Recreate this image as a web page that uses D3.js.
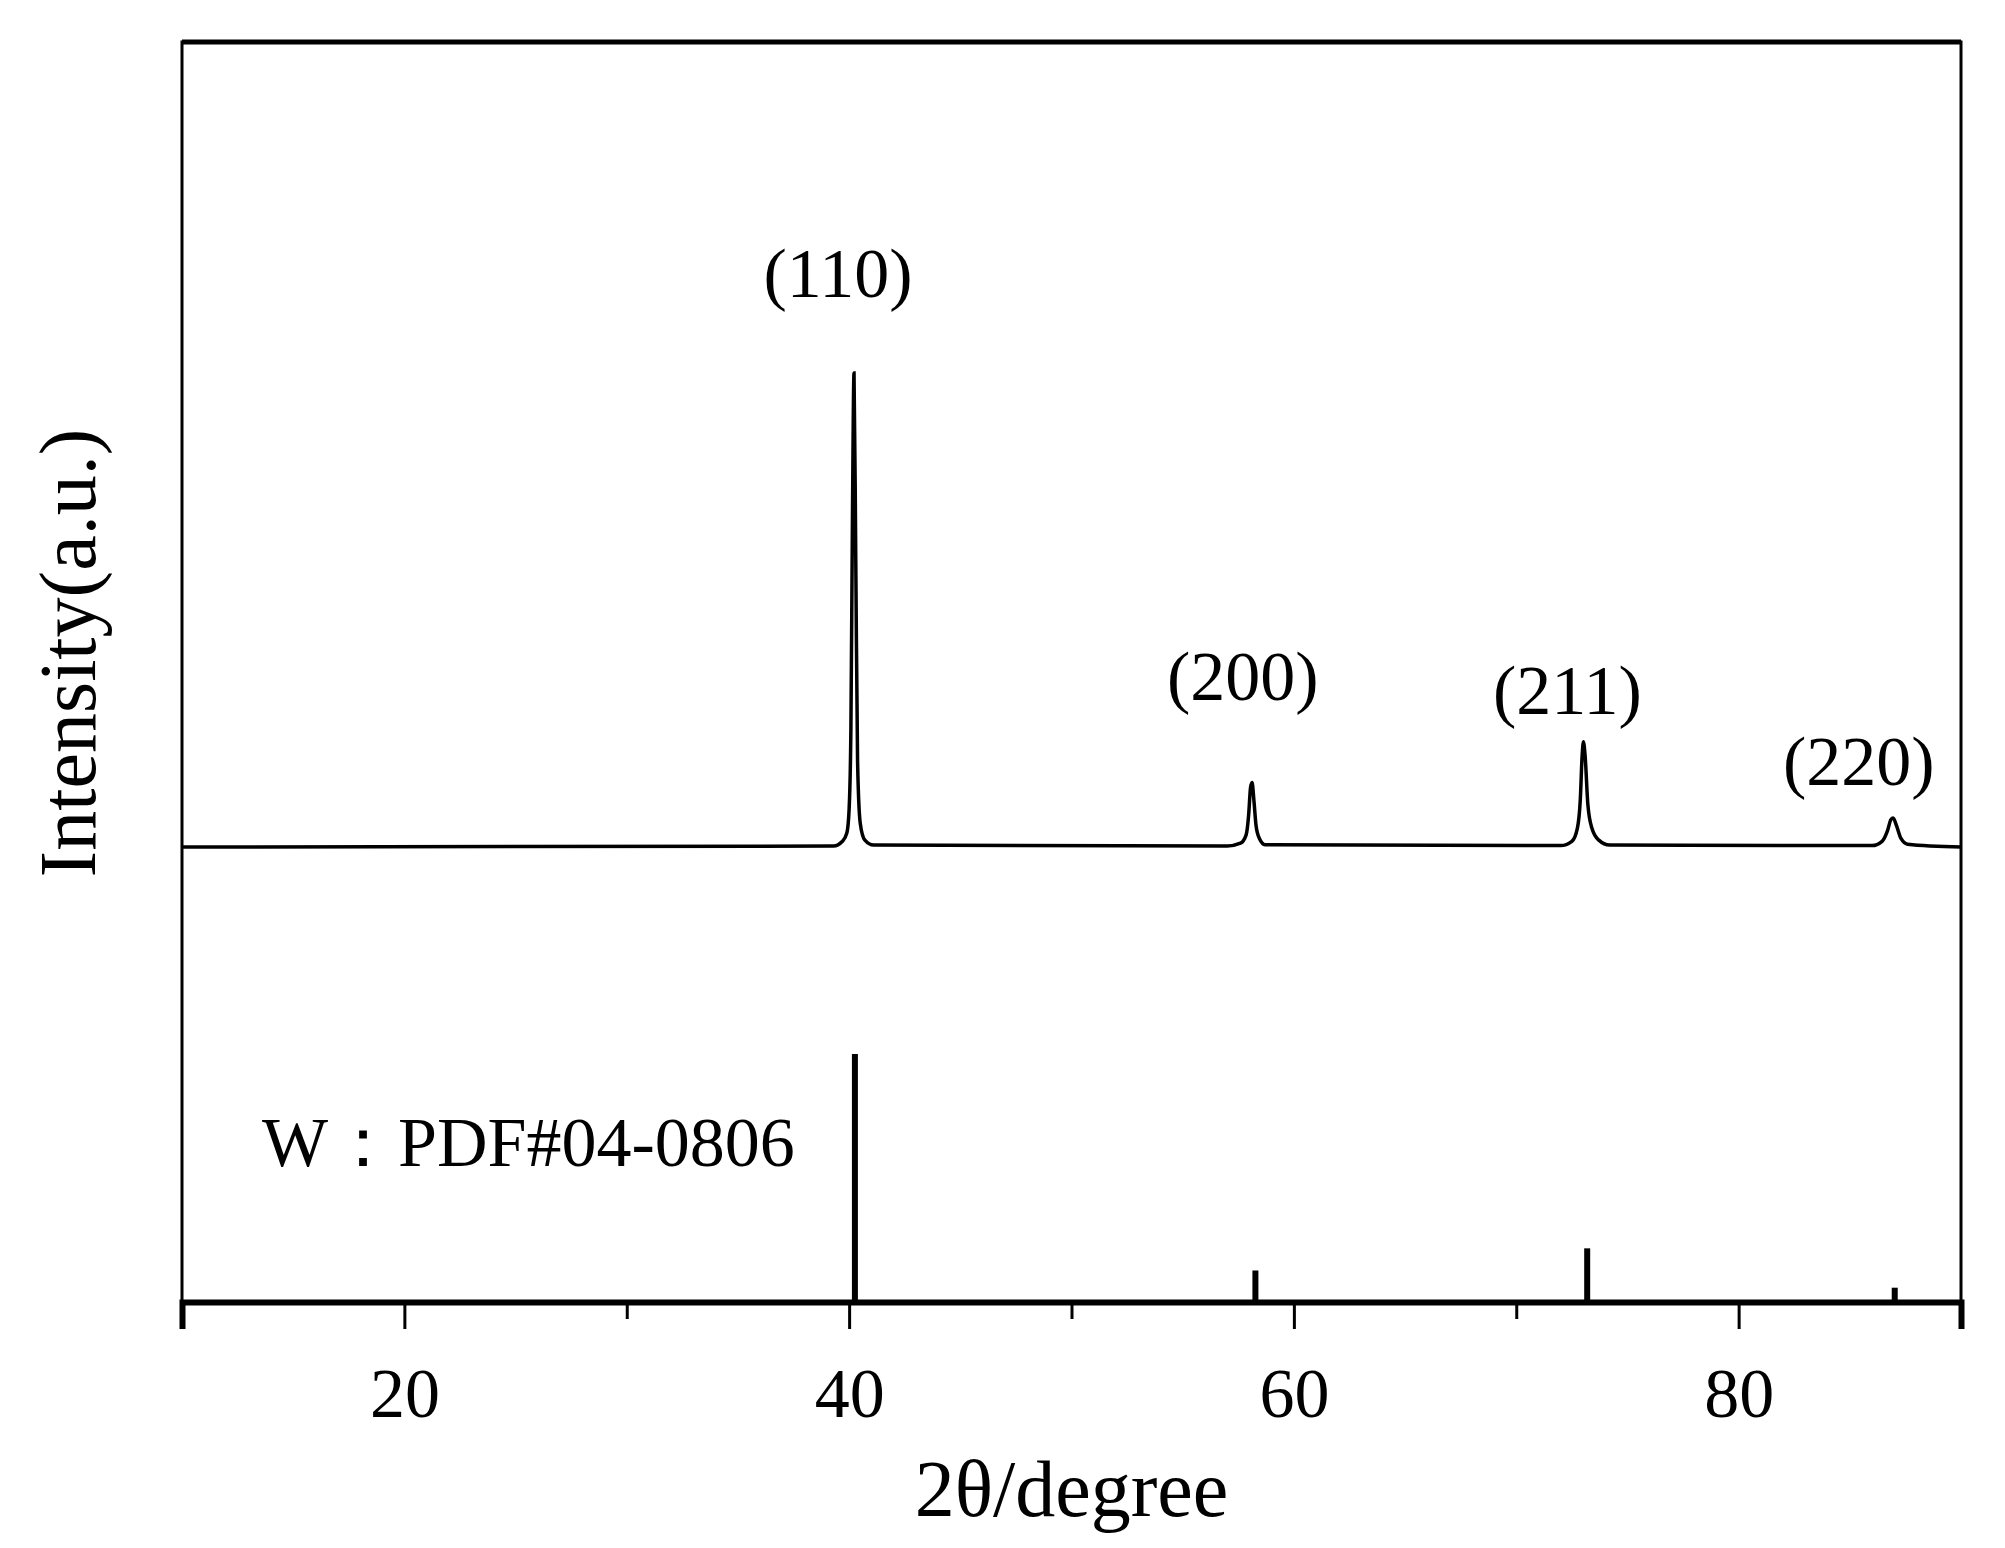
<!DOCTYPE html>
<html>
<head>
<meta charset="utf-8">
<script src="https://cdn.jsdelivr.net/npm/d3@7"></script>
<style>
  body { margin: 0; background: #fff; }
  text { font-family: "Liberation Serif", "Times New Roman", serif; fill: #000; }
</style>
</head>
<body>
<div class="chart"></div>
<script>
var scanX = [10, 39.3, 39.7, 39.9, 40.0, 40.08, 40.15, 40.22, 40.3, 40.38, 40.5, 40.7, 41.1, 57.0,
  57.6, 57.85, 57.97, 58.05, 58.12, 58.2, 58.3, 58.45, 58.7, 72.0, 72.5, 72.75, 72.88, 72.96, 73.02,
  73.1, 73.22, 73.4, 73.7, 74.2, 86.0, 86.45, 86.7, 86.85, 86.95, 87.1, 87.3, 87.6, 90];
var scanY = [0, 0.2, 1.2, 3, 8, 25, 70, 100, 60, 18, 5, 1.5, 0.4, 0.2,
  0.8, 2.5, 7, 12.5, 13.6, 10, 4.5, 1.8, 0.5, 0.3, 1.2, 4, 10, 19, 22.2,
  19, 9, 4, 1.5, 0.4, 0.3, 1.2, 3.5, 5.8, 6.1, 4.5, 1.8, 0.6, 0];

// reference card W PDF#04-0806
var refPos = [40.26, 58.27, 73.19, 87.02];
var refInt = [100, 12, 21, 5];

var peakLabels = ["(110)", "(200)", "(211)", "(220)"];
var labelPos = [39.5, 57.7, 72.3, 85.4];
var labelInt = [116, 31, 28, 13];

var xTicks = [20, 40, 60, 80];

var svgWidth = 2005, svgHeight = 1548;
var margin = {top: 42, right: 44, bottom: 246, left: 182};
var width = svgWidth - margin.left - margin.right;
var height = svgHeight - margin.top - margin.bottom;

var svg = d3.select(".chart").append("svg")
  .attr("width", svgWidth).attr("height", svgHeight);
var chartGroup = svg.append("g")
  .attr("transform", `translate(${margin.left}, ${margin.top})`);

var x = d3.scaleLinear().domain([10, 90]).range([0, width]);
// upper pattern and stick pattern use their own vertical scales
var yScan = d3.scaleLinear().domain([0, 100]).range([805, 331]);
var yRef = d3.scaleLinear().domain([0, 100]).range([height - 2, 1012]);

var scan = scanX.map((d, i) => [d, scanY[i]]);
var line = d3.line().x(d => x(d[0])).y(d => yScan(d[1])).curve(d3.curveMonotoneX);
chartGroup.append("path").datum(scan)
  .attr("d", line).attr("fill", "none").attr("stroke", "#000").attr("stroke-width", 3.5);

chartGroup.selectAll(".stick").data(refPos).enter().append("line")
  .attr("x1", d => x(d)).attr("x2", d => x(d))
  .attr("y1", yRef(0)).attr("y2", (d, i) => yRef(refInt[i]))
  .attr("stroke", "#000").attr("stroke-width", 6);

chartGroup.selectAll(".plabel").data(peakLabels).enter().append("text")
  .attr("x", (d, i) => x(labelPos[i])).attr("y", (d, i) => yScan(labelInt[i]))
  .attr("text-anchor", "middle").attr("font-size", 70).text(d => d);

chartGroup.append("text").attr("x", 80).attr("y", 1124)
  .attr("font-size", 70).text("W：PDF#04-0806");

// frame
chartGroup.append("rect").attr("width", width).attr("height", height)
  .attr("fill", "none").attr("stroke", "#000").attr("stroke-width", 3);
chartGroup.append("line").attr("x1", 0).attr("x2", width).attr("y1", 0).attr("y2", 0)
  .attr("stroke", "#000").attr("stroke-width", 5);

var xAxis = chartGroup.append("g").attr("transform", `translate(0, ${height})`)
  .call(d3.axisBottom(x).tickValues(d3.range(10, 91, 10)).tickSize(27)
    .tickFormat(d => xTicks.includes(d) ? d : ""));
xAxis.select(".domain").attr("stroke-width", 6);
xAxis.selectAll(".tick line").attr("stroke-width", 3)
  .attr("y2", d => xTicks.includes(d) ? 27 : 17);
xAxis.selectAll(".tick text").attr("font-size", 70).attr("dy", 0).attr("y", 115)
  .attr("font-family", "Liberation Serif");

svg.append("text").attr("x", margin.left + x(50)).attr("y", 1516)
  .attr("text-anchor", "middle").attr("font-size", 80).text("2θ/degree");
svg.append("text").attr("transform", "translate(95, 653) rotate(-90)")
  .attr("text-anchor", "middle").attr("font-size", 80).text("Intensity(a.u.)");
</script>
</body>
</html>
